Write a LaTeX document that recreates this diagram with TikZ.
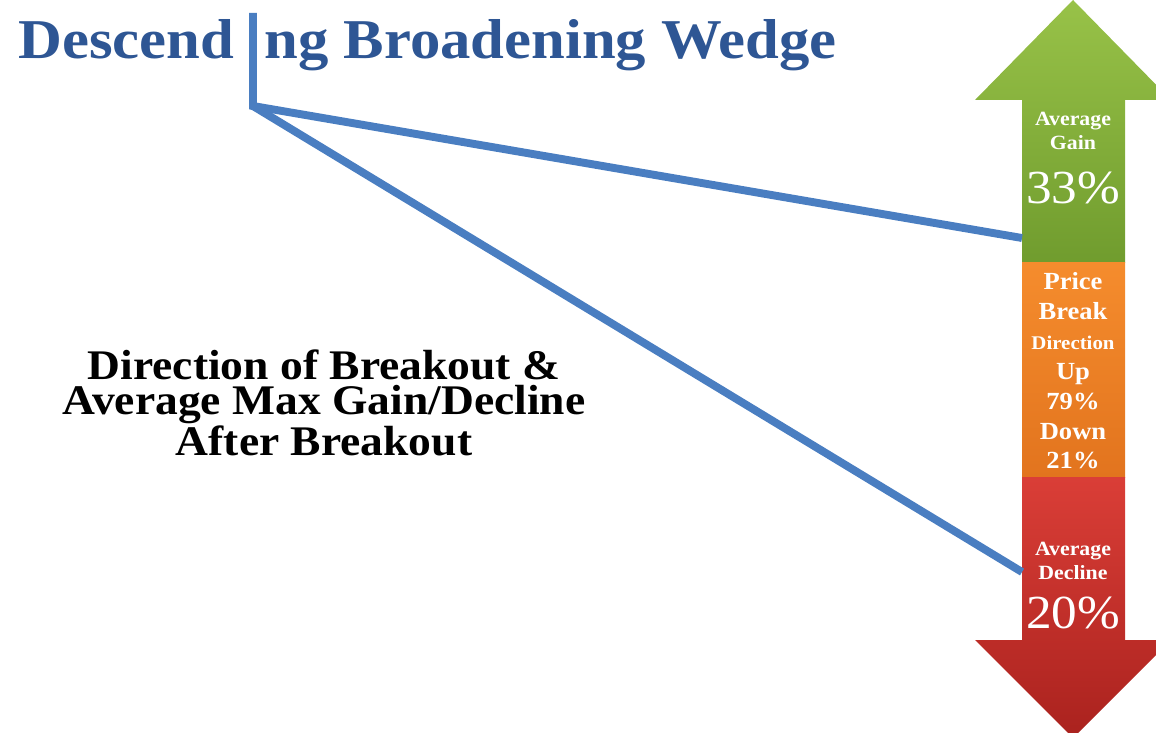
\documentclass[tikz,border=0pt]{standalone}
\usepackage{fontspec}
\setmainfont{Liberation Serif}[FakeStretch=1.08]
\usepackage{tikz}
\usetikzlibrary{positioning,calc}
\definecolor{titleblue}{RGB}{46,86,148}
\definecolor{wedgeblue}{RGB}{74,126,193}
\definecolor{gainlight}{RGB}{152,194,72}
\definecolor{gaindark}{RGB}{112,156,46}
\definecolor{breaklight}{RGB}{245,140,45}
\definecolor{breakdark}{RGB}{226,116,30}
\definecolor{declinelight}{RGB}{218,62,55}
\definecolor{declinedark}{RGB}{170,34,30}

\tikzset{
  wedgeline/.style={draw=wedgeblue,line width=4.5pt},
  titletext/.style={anchor=base west,inner sep=0pt,text=titleblue,
                    font=\bfseries\fontsize{32}{32}\selectfont},
  arrowtext/.style={text=white,align=center,inner sep=0pt,
                    font=\bfseries\fontsize{11.5}{13.5}\selectfont},
  arrowvalue/.style={text=white,inner sep=0pt,font=\fontsize{27}{27}\selectfont},
}

\begin{document}
\begin{tikzpicture}[x=0.02cm,y=-0.02cm]
\useasboundingbox (0,0) rectangle (1156,733);
\clip (0,0) rectangle (1156,733);

% up arrow (gain), middle bar (break direction), down arrow (decline)
\shade[top color=gainlight,bottom color=gaindark]
  (1022,263) -- (1022,100) -- (975,100) -- (1073,0) -- (1171,100)
  -- (1125,100) -- (1125,263) -- cycle;
\shade[top color=breaklight,bottom color=breakdark]
  (1022,263) rectangle (1125,477);
\shade[top color=declinelight,bottom color=declinedark]
  (1022,477) -- (1022,640) -- (975,640) -- (1073,738) -- (1171,640)
  -- (1125,640) -- (1125,477) -- cycle;

\node[arrowtext] (gainlbl) at (1073,131) {Average\\Gain};
\node[arrowvalue] (gainval) at (1073,188) {33\%};
\node[arrowtext,font=\bfseries\fontsize{14}{17}\selectfont] (breaklbl) at (1073,371)
  {Price\\Break\\{\fontsize{11}{17}\selectfont Direction}\\Up\\79\%\\Down\\21\%};
\node[arrowtext] (declinelbl) at (1073,561) {Average\\Decline};
\node[arrowvalue] (declineval) at (1073,613) {20\%};

% title, the wedge stem stands in its i
\node[titletext] (titleA) at (18,59) {Descend};
\node[titletext] (titleB) at (264,59) {ng Broadening Wedge};

% wedge
\coordinate (stem) at (253,13);
\coordinate (apex) at (253,106);
\coordinate (upper) at (1022,238);
\coordinate (lower) at (1022,572);
\draw[wedgeline] (stem) -- (apex) -- (upper);
\draw[wedgeline] (apex) -- (lower);

\node[align=center,inner sep=0pt,font=\bfseries\fontsize{24}{20}\selectfont] (caption) at (324,403)
  {Direction of Breakout \&\\Average Max Gain/Decline\\After Breakout};
\end{tikzpicture}
\end{document}
